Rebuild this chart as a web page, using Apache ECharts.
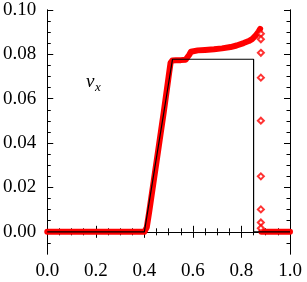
<!DOCTYPE html>
<html><head><meta charset="utf-8">
<script src="https://cdn.jsdelivr.net/npm/echarts@6/dist/echarts.min.js"></script>
<style>html,body{margin:0;padding:0;background:#fff}#c{width:307px;height:282px}</style>
</head><body><div id="c"></div>
<script>
// numerical solution (dense band)
const numX = [0.00,0.10,0.20,0.30,0.40,0.405,0.41,0.42,0.44,0.46,0.48,0.50,0.508,0.515,0.53,0.55,0.57,0.578,0.585,0.592,0.60,0.62,0.65,0.687,0.72,0.755,0.78,0.809,0.83,0.844,0.858,0.871,0.877];
const numY = [0.0,0.0,0.0,0.0,0.0,0.0003,0.002,0.009,0.024,0.039,0.054,0.070,0.0762,0.0772,0.0773,0.0774,0.0776,0.0782,0.0798,0.0812,0.0816,0.0818,0.0820,0.0823,0.0827,0.0833,0.0840,0.0851,0.0860,0.0869,0.0884,0.0903,0.0915];
// numerical solution behind the shock (zero state)
const postX = [0.882,0.90,0.95,1.00];
const postY = [0.0,0.0,0.0,0.0];
// isolated points across the shock
const shockX = [0.880,0.880,0.880,0.880,0.880,0.880,0.880,0.880,0.880];
const shockY = [0.0893,0.0868,0.0807,0.0695,0.0501,0.0250,0.0101,0.0042,0.0016];
// exact solution
const exX = [0.0,0.40,0.516,0.85,0.85,1.0];
const exY = [0.0,0.0,0.0778,0.0778,0.0,0.0];
// axis ticks
const yMajor = [0.00,0.02,0.04,0.06,0.08,0.10];
const yMinor = [-0.005,0.005,0.01,0.015,0.025,0.03,0.035,0.045,0.05,0.055,0.065,0.07,0.075,0.085,0.09,0.095];

const zip = (a,b)=>a.map((v,i)=>[v,b[i]]);
const FONT = 'Liberation Serif';
const chart = echarts.init(document.getElementById('c'), null, {renderer:'canvas'});
const lineBlack = {show:true, lineStyle:{color:'#000', width:1}};
const baseY = (pos, labels, ticks, len) => ({
  type:'value', position:pos, min:-0.01, max:0.10, offset:0,
  axisLine: lineBlack, splitLine:{show:false},
  axisTick:{show:true, inside:true, length:len, customValues:ticks, lineStyle:{color:'#000', width:1}},
  axisLabel:labels ? {show:true, customValues:yMajor, margin:11, fontFamily:FONT, fontSize:19, color:'#000', formatter:v=>v.toFixed(2)} : {show:false}
});
const baseX = (pos, labels) => ({
  type:'value', position:pos, min:0, max:1, interval:0.2,
  axisLine: lineBlack, splitLine:{show:false},
  axisTick:{show:true, inside:true, length:6, lineStyle:{color:'#000', width:1}},
  minorTick:{show:true, splitNumber:4, length:3.5, lineStyle:{color:'#000', width:1}},
  axisLabel:labels ? {show:true, margin:8, fontFamily:FONT, fontSize:19, color:'#000', formatter:v=>v.toFixed(1)} : {show:false}
});
chart.setOption({
  animation:false,
  backgroundColor:'#fff',
  grid:{left:45, right:17, top:10, bottom:28},
  xAxis:[baseX('bottom', true), baseX('top', false)],
  yAxis:[baseY('left', true, yMajor, 6), baseY('left', false, yMinor, 3.5), baseY('right', false, yMajor, 6), baseY('right', false, yMinor, 3.5)],
  graphic:[
    {type:'text', left:86, top:72, style:{text:'v', font:'italic 19px "Liberation Serif"', fill:'#000'}},
    {type:'text', left:95, top:81, style:{text:'x', font:'italic 13px "Liberation Serif"', fill:'#000'}}
  ],
  series:[
    {type:'line', data:zip(numX,numY), showSymbol:false, lineStyle:{color:'#ff0000', width:6, cap:'round', join:'round'}, z:2},
    {type:'line', data:zip(postX,postY), showSymbol:false, lineStyle:{color:'#ff0000', width:6, cap:'round', join:'round'}, z:2},
    {type:'scatter', data:zip(shockX,shockY), symbol:'emptyDiamond', symbolSize:6, itemStyle:{color:'#ff0000', borderColor:'#ff0000', borderWidth:1.3}, z:3},
    {type:'line', data:zip(exX,exY), showSymbol:false, lineStyle:{color:'#000', width:1.2}, z:4}
  ]
});
</script></body></html>
